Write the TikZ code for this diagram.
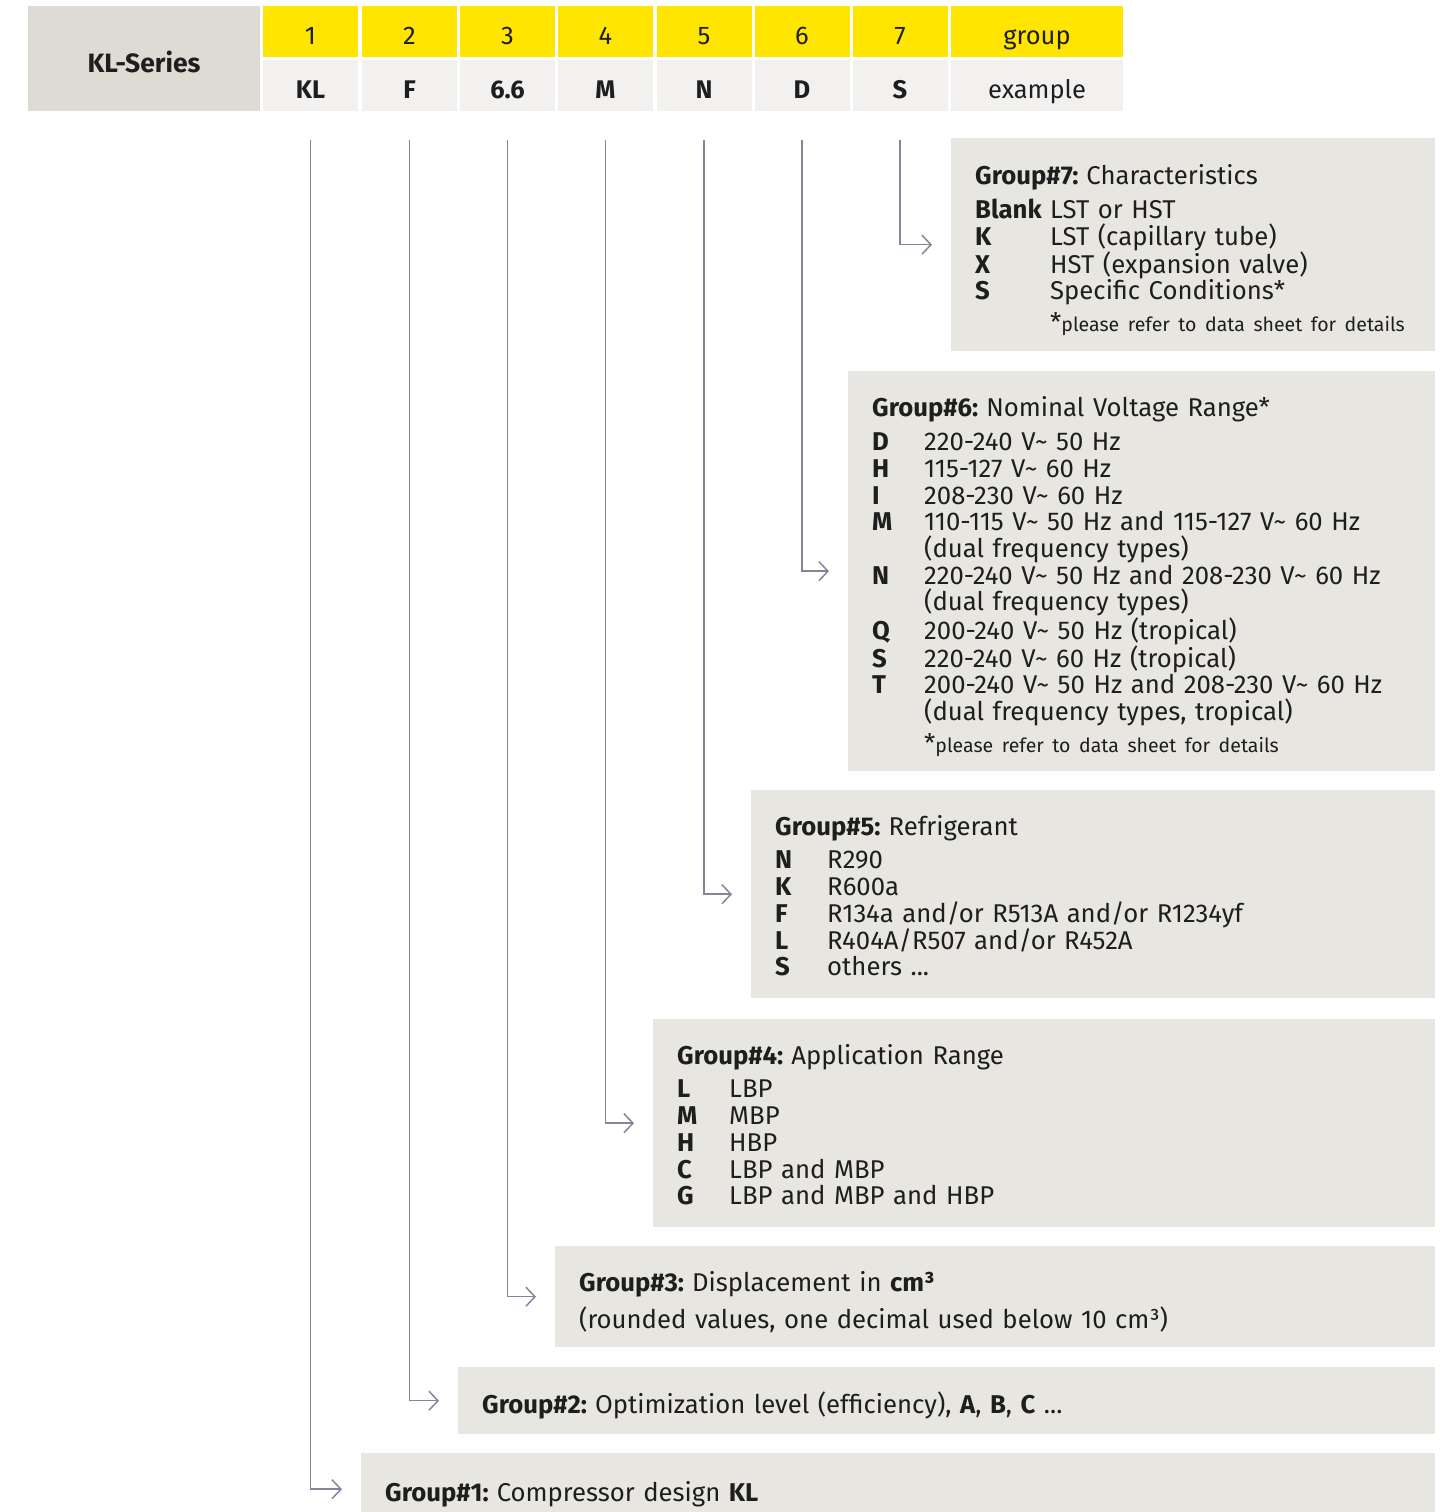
\documentclass[tikz,border=0pt]{standalone}
\usepackage{fontspec}
\setmainfont{Fira Sans}
\usetikzlibrary{arrows.meta}
\definecolor{codeyellow}{HTML}{FFE500}
\definecolor{seriesgray}{HTML}{DEDBD5}
\definecolor{cellgray}{HTML}{F2F1EF}
\definecolor{boxgray}{HTML}{E8E6E1}
\definecolor{linkgray}{HTML}{83869A}
\definecolor{textdark}{HTML}{1E1E1E}
\newcommand\gtitle[2][31pt]{\rule{0pt}{#1}\textbf{Group\##2:}\hspace{8pt}}
\newcommand\gc[2][52pt]{\makebox[#1][l]{\textbf{#2}}}
\newcommand\gnote[1][52pt]{\hspace*{#1}*{\fontsize{19.5}{20}\selectfont please refer to data sheet for details}}

\begin{document}
\begin{tikzpicture}[x=1pt,y=-1pt,>={Straight Barb[length=9pt,width=19pt]},
  cell/.style={minimum width=95,minimum height=51,inner sep=0pt,text height=30pt,text depth=3pt,text=textdark,font=\fontsize{25.5}{28}\selectfont},
  numcell/.style={cell,fill=codeyellow},
  valcell/.style={cell,fill=cellgray,font=\fontsize{25.5}{28}\selectfont\bfseries},
  grpbox/.style={fill=boxgray,anchor=north west,align=left,inner xsep=24pt,inner ysep=0pt,text=textdark,font=\fontsize{25.7}{26.7}\selectfont},
  link/.style={->,draw=linkgray,line width=1.5pt,shorten <=29pt,shorten >=19pt}]
\useasboundingbox (0,0) rectangle (1455,1512);

\node[cell,fill=seriesgray,minimum width=232,minimum height=105,font=\fontsize{26.5}{28}\selectfont\bfseries] (series) at (144,58.5) {KL-Series};

\node[numcell] (n1) at (310.5,31.5) {1};
\node[numcell] (n2) at (409.5,31.5) {2};
\node[numcell] (n3) at (507.5,31.5) {3};
\node[numcell] (n4) at (605.5,31.5) {4};
\node[numcell] (n5) at (704,31.5) {5};
\node[numcell] (n6) at (802,31.5) {6};
\node[numcell] (n7) at (900,31.5) {7};
\node[numcell,minimum width=172] (ngroup) at (1037,31.5) {group};

\node[valcell] (c1) at (310.5,85.5) {KL};
\node[valcell] (c2) at (409.5,85.5) {F};
\node[valcell] (c3) at (507.5,85.5) {6.6};
\node[valcell] (c4) at (605.5,85.5) {M};
\node[valcell] (c5) at (704,85.5) {N};
\node[valcell] (c6) at (802,85.5) {D};
\node[valcell] (c7) at (900,85.5) {S};
\node[valcell,minimum width=172,font=\fontsize{25.5}{28}\selectfont] (cgroup) at (1037,85.5) {example};

\node[grpbox,text width=436,minimum height=213] (g7) at (951,138) {%
  \gtitle{7}Characteristics\\[7pt]
  \gc[75pt]{Blank}LST or HST\\
  \gc[75pt]{K}LST (capillary tube)\\
  \gc[75pt]{X}HST (expansion valve)\\
  \gc[75pt]{S}Specific Conditions*\\[5pt]
  \gnote[75pt]};
\node[grpbox,text width=539,minimum height=400] (g6) at (848,371) {%
  \gtitle{6}Nominal Voltage Range*\\[7pt]
  \gc{D}220-240 V\textasciitilde{} 50 Hz\\
  \gc{H}115-127 V\textasciitilde{} 60 Hz\\
  \gc{I}208-230 V\textasciitilde{} 60 Hz\\
  \gc{M}110-115 V\textasciitilde{} 50 Hz and 115-127 V\textasciitilde{} 60 Hz\\
  \gc{}(dual frequency types)\\
  \gc{N}220-240 V\textasciitilde{} 50 Hz and 208-230 V\textasciitilde{} 60 Hz\\
  \gc{}(dual frequency types)\\
  \gc{Q}200-240 V\textasciitilde{} 50 Hz (tropical)\\
  \gc{S}220-240 V\textasciitilde{} 60 Hz (tropical)\\
  \gc{T}200-240 V\textasciitilde{} 50 Hz and 208-230 V\textasciitilde{} 60 Hz\\
  \gc{}(dual frequency types, tropical)\\[5pt]
  \gnote};
\node[grpbox,text width=636,minimum height=208] (g5) at (751,790) {%
  \gtitle[23pt]{5}Refrigerant\\[7pt]
  \gc{N}R290\\
  \gc{K}R600a\\
  \gc{F}R134a and/or R513A and/or R1234yf\\
  \gc{L}R404A/R507 and/or R452A\\
  \gc{S}others ...};
\node[grpbox,text width=734,minimum height=208] (g4) at (653,1019) {%
  \gtitle[23pt]{4}Application Range\\[7pt]
  \gc{L}LBP\\
  \gc{M}MBP\\
  \gc{H}HBP\\
  \gc{C}LBP and MBP\\
  \gc{G}LBP and MBP and HBP};
\node[grpbox,text width=832,minimum height=101] (g3) at (555,1246) {%
  \gtitle{3}Displacement in \textbf{cm³}\\[8pt]
  (rounded values, one decimal used below 10 cm³)};
\node[grpbox,text width=929,minimum height=67] (g2) at (458,1367) {%
  \gtitle{2}Optimization level (efficiency), \textbf{A}, \textbf{B}, \textbf{C} ...};
\node[grpbox,text width=1026,minimum height=72] (g1) at (361,1453) {%
  \gtitle{1}Compressor design \textbf{KL}};

\draw[link] (c7.south) |- (g7.west);
\draw[link] (c6.south) |- (g6.west);
\draw[link] (c5.south) |- (g5.west);
\draw[link] (c4.south) |- (g4.west);
\draw[link] (c3.south) |- (g3.west);
\draw[link] (c2.south) |- (g2.west);
\draw[link] (c1.south) |- (g1.west);
\end{tikzpicture}
\end{document}
